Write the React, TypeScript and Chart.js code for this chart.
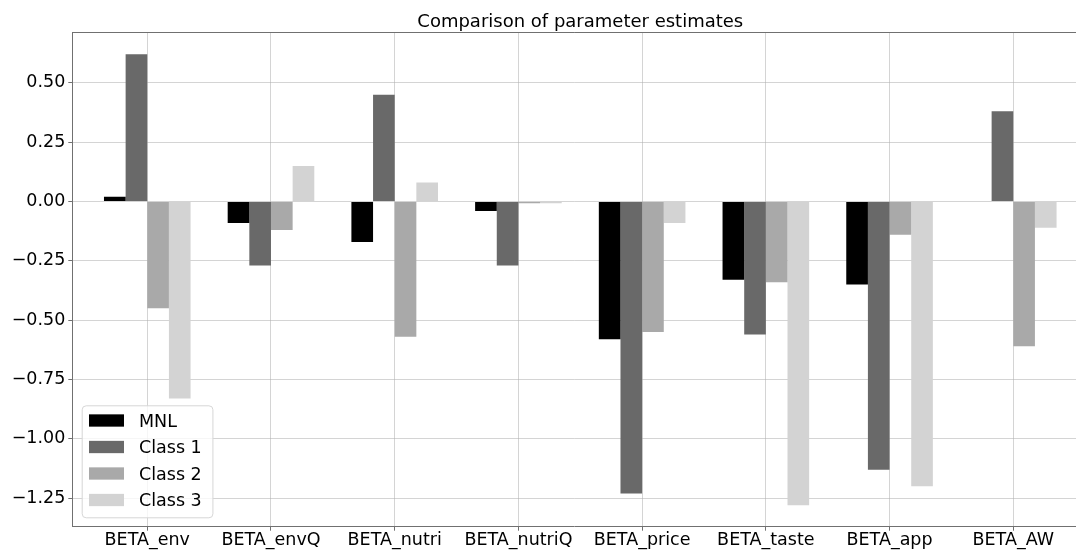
import React, { useEffect, useRef } from 'react';
import { Chart, registerables } from 'chart.js';

Chart.register(...registerables);

// Parameter names on the x axis
const categories = [
  'BETA_env',
  'BETA_envQ',
  'BETA_nutri',
  'BETA_nutriQ',
  'BETA_price',
  'BETA_taste',
  'BETA_app',
  'BETA_AW',
];

// Estimates per model
const mnl = [0.02, -0.09, -0.17, -0.04, -0.58, -0.33, -0.35, 0.0];
const class1 = [0.62, -0.27, 0.45, -0.27, -1.23, -0.56, -1.13, 0.38];
const class2 = [-0.45, -0.12, -0.57, -0.007, -0.55, -0.34, -0.14, -0.61];
const class3 = [-0.83, 0.15, 0.08, -0.007, -0.09, -1.28, -1.2, -0.11];

const seriesNames = ['MNL', 'Class 1', 'Class 2', 'Class 3'];
const seriesValues = [mnl, class1, class2, class3];
const seriesColors = ['#000000', '#696969', '#a9a9a9', '#d3d3d3'];

const yTicks = [-1.25, -1.0, -0.75, -0.5, -0.25, 0, 0.25, 0.5];

const chartTitle = 'Comparison of parameter estimates';

const FONT = '"DejaVu Sans", "Liberation Sans", sans-serif';
const SPINE = '#707070';
const GRID = 'rgba(176,176,176,0.55)';

// Title centred over the category span, top spine, and an in-axes legend
const framePlugin = {
  id: 'frameAndLegend',
  afterDraw(chart: any) {
    const { ctx, chartArea } = chart;
    const xScale = chart.scales.x;
    ctx.save();

    // title
    ctx.font = `18px ${FONT}`;
    ctx.fillStyle = '#000000';
    ctx.textAlign = 'center';
    ctx.textBaseline = 'alphabetic';
    ctx.fillText(chartTitle, xScale.getPixelForValue((categories.length - 1) / 2), 27.3);

    // top spine
    ctx.strokeStyle = SPINE;
    ctx.lineWidth = 1;
    const ty = Math.round(chartArea.top) + 0.5;
    ctx.beginPath();
    ctx.moveTo(chartArea.left, ty);
    ctx.lineTo(chartArea.right, ty);
    ctx.stroke();

    // legend
    const fontSize = 17.5;
    ctx.font = `${fontSize}px ${FONT}`;
    const labels: string[] = chart.data.datasets.map((d: any) => d.label);
    const colors: string[] = chart.data.datasets.map((d: any) => d.backgroundColor);
    const textW = Math.max(...labels.map((l) => ctx.measureText(l).width));
    const patchW = 35;
    const patchH = 12.3;
    const rowH = 26.5;
    const boxH = 112;
    const boxX = chartArea.left + 9.4;
    const boxY = chartArea.bottom - 9.4 - boxH;
    const boxW = 7 + patchW + 15 + textW + 11;

    ctx.beginPath();
    ctx.roundRect(boxX + 0.5, boxY + 0.5, boxW, boxH, 4);
    ctx.fillStyle = 'rgba(255,255,255,0.8)';
    ctx.fill();
    ctx.strokeStyle = '#d6d6d6';
    ctx.lineWidth = 1;
    ctx.stroke();

    labels.forEach((label, i) => {
      const cy = boxY + 15.2 + i * rowH;
      ctx.fillStyle = colors[i];
      ctx.fillRect(boxX + 7.3, cy - patchH / 2, patchW, patchH);
      ctx.fillStyle = '#000000';
      ctx.textAlign = 'left';
      ctx.textBaseline = 'alphabetic';
      ctx.fillText(label, boxX + 7.3 + patchW + 15, cy + 0.365 * fontSize);
    });

    ctx.restore();
  },
};

export default function App() {
  const canvasRef = useRef<HTMLCanvasElement | null>(null);

  useEffect(() => {
    const canvas = canvasRef.current;
    if (!canvas) return;

    const datasets = seriesNames.map((name, s) => ({
      label: name,
      data: seriesValues[s].map((v, i) => ({ x: i, y: v })),
      backgroundColor: seriesColors[s],
      borderWidth: 0,
      categoryPercentage: 0.7,
      barPercentage: 1.0,
    }));

    const chart = new Chart(canvas, {
      type: 'bar',
      data: { datasets },
      plugins: [framePlugin],
      options: {
        responsive: false,
        animation: false,
        devicePixelRatio: 1,
        layout: { padding: { top: 32.3, left: 0, right: 0, bottom: 0 } },
        plugins: {
          legend: { display: false },
          tooltip: { enabled: false },
          title: { display: false },
        },
        scales: {
          x: {
            type: 'linear',
            min: -0.606,
            max: 7.507,
            offset: false,
            z: 1,
            grid: {
              offset: false,
              color: GRID,
              lineWidth: 1,
              tickColor: SPINE,
              tickLength: 4,
              drawTicks: true,
            },
            border: { display: true, color: SPINE, width: 1 },
            ticks: {
              color: '#000000',
              font: { family: FONT, size: 17.5 },
              padding: -1,
              maxRotation: 0,
              autoSkip: false,
              callback: (value: any) => categories[Math.round(Number(value))] ?? '',
            },
            afterBuildTicks: (scale: any) => {
              scale.ticks = categories.map((_, i) => ({ value: i }));
            },
            afterFit: (scale: any) => {
              scale.height = 23.3;
            },
          },
          y: {
            type: 'linear',
            min: -1.37,
            max: 0.713,
            z: 1,
            grid: {
              color: GRID,
              lineWidth: 1,
              tickColor: SPINE,
              tickLength: 4,
              drawTicks: true,
            },
            border: { display: true, color: SPINE, width: 1 },
            ticks: {
              color: '#000000',
              font: { family: FONT, size: 17.5 },
              padding: 3,
              callback: (value: any) => {
                const v = Number(value);
                const s = Math.abs(v).toFixed(2);
                return v < 0 ? '\u2212' + s : s;
              },
            },
            afterBuildTicks: (scale: any) => {
              scale.ticks = yTicks.map((v) => ({ value: v }));
            },
            afterFit: (scale: any) => {
              scale.width = 72.3;
            },
          },
        },
      },
    });

    return () => {
      chart.destroy();
    };
  }, []);

  return (
    <div
      style={{
        position: 'absolute',
        left: 0,
        top: 0,
        width: 1076,
        height: 550,
        background: '#ffffff',
        overflow: 'hidden',
      }}
    >
      <canvas ref={canvasRef} width={1076} height={550} />
    </div>
  );
}
